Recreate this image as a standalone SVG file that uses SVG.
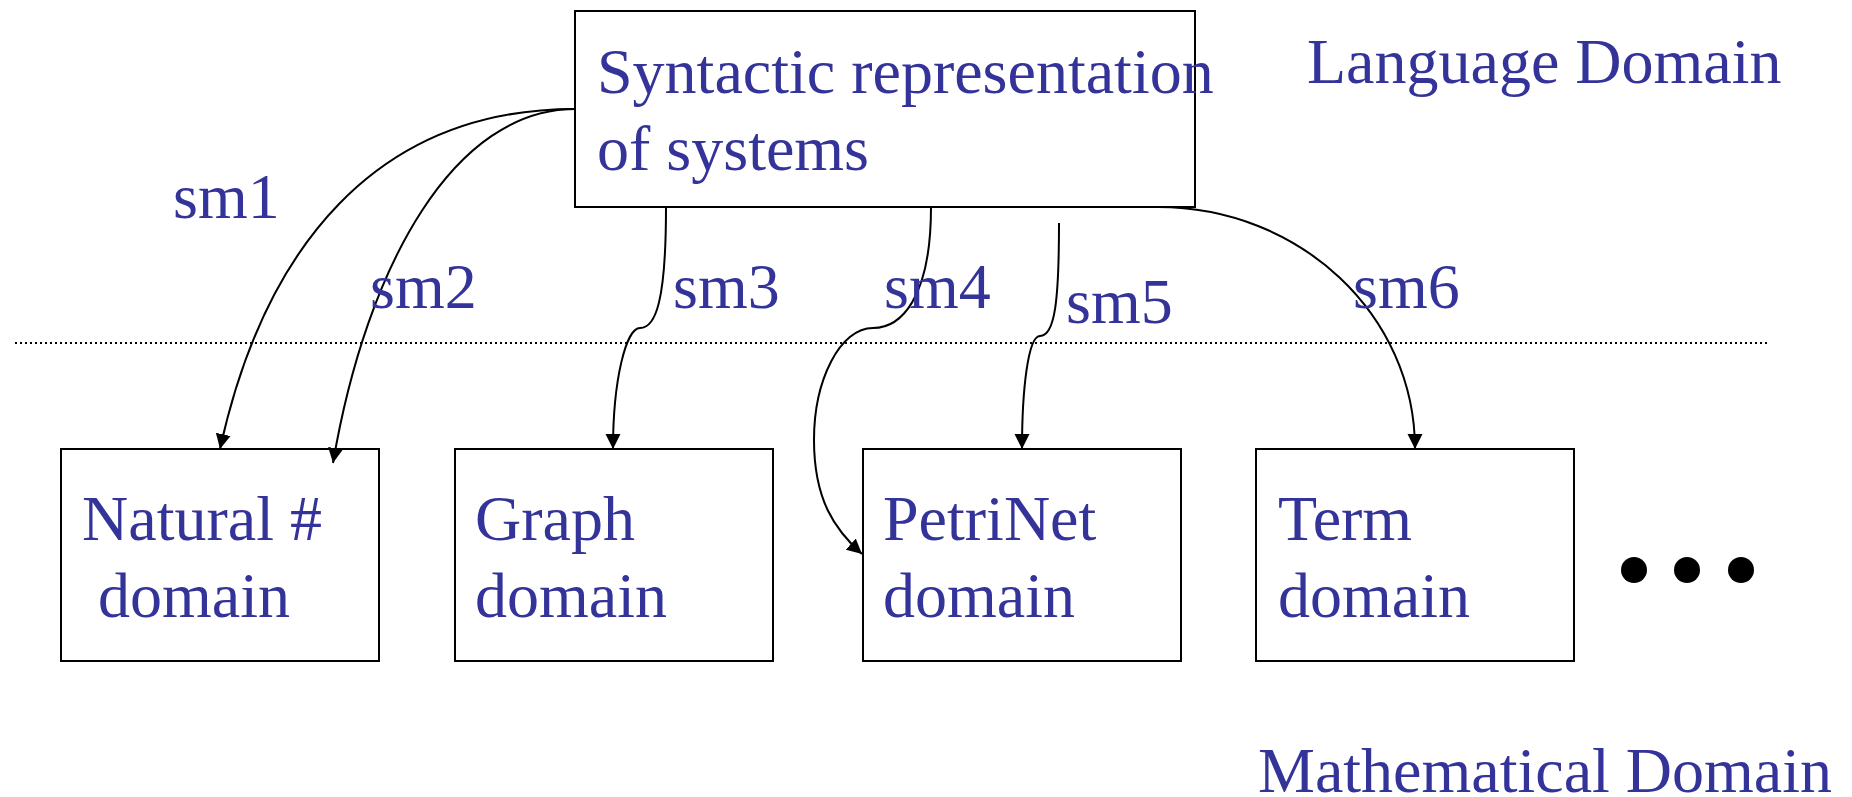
<svg xmlns="http://www.w3.org/2000/svg" width="1852" height="797" viewBox="0 0 1852 797">
<style>
  .box { fill: #ffffff; stroke: #000000; stroke-width: 2; }
  .t { font-family: "Liberation Serif", "Times New Roman", serif; font-size: 64px; fill: #333399; }
  .edge { fill: none; stroke: #000000; stroke-width: 2; marker-end: url(#arrow); }
  .sep { fill: none; stroke: #000000; stroke-width: 2; stroke-dasharray: 2 3; }
</style>
<defs>
  <marker id="arrow" markerUnits="userSpaceOnUse" markerWidth="16" markerHeight="16" refX="15" refY="8" orient="auto">
    <path d="M0,0.5 L15,8 L0,15.5 Z" fill="#000000"/>
  </marker>
</defs>
<rect width="1852" height="797" fill="#ffffff"/>

<line id="separator" class="sep" x1="15" y1="343" x2="1768" y2="343"/>

<g id="syntactic">
  <rect class="box" x="575" y="11" width="620" height="196"/>
  <text class="t" x="597" y="93">Syntactic representation</text>
  <text class="t" x="597" y="170">of systems</text>
</g>

<g id="natural">
  <rect class="box" x="61" y="449" width="318" height="212"/>
  <text class="t" x="82" y="540">Natural #</text>
  <text class="t" x="98" y="617">domain</text>
</g>

<g id="graph">
  <rect class="box" x="455" y="449" width="318" height="212"/>
  <text class="t" x="475" y="540">Graph</text>
  <text class="t" x="475" y="617">domain</text>
</g>

<g id="petrinet">
  <rect class="box" x="863" y="449" width="318" height="212"/>
  <text class="t" x="883" y="540">PetriNet</text>
  <text class="t" x="883" y="617">domain</text>
</g>

<g id="term">
  <rect class="box" x="1256" y="449" width="318" height="212"/>
  <text class="t" x="1278" y="540">Term</text>
  <text class="t" x="1278" y="617">domain</text>
</g>

<g id="ellipsis">
  <circle cx="1634" cy="570" r="13" fill="#000000"/>
  <circle cx="1687" cy="570" r="13" fill="#000000"/>
  <circle cx="1741" cy="570" r="13" fill="#000000"/>
</g>

<g id="connectors">
  <path id="sm1" class="edge" d="M575,109 C375,109 264,249 220,449"/>
  <path id="sm2" class="edge" d="M575,109 C455,109 367,263 333,463"/>
  <path id="sm3" class="edge" d="M666,207 C666,300 656,328 640,328 C626,328 613,380 613,449"/>
  <path id="sm4" class="edge" d="M931,207 C931,300 900,328 873,328 C840,328 814,380 814,440 C814,500 835,530 862,554"/>
  <path id="sm5" class="edge" d="M1059,223 C1059,300 1055,336 1040,336 C1028,336 1022,390 1022,449"/>
  <path id="sm6" class="edge" d="M1158,207 C1300,207 1415,315 1415,449"/>
</g>

<g id="labels">
  <text class="t" x="173" y="218">sm1</text>
  <text class="t" x="370" y="308">sm2</text>
  <text class="t" x="673" y="308">sm3</text>
  <text class="t" x="884" y="308">sm4</text>
  <text class="t" x="1066" y="323">sm5</text>
  <text class="t" x="1353" y="308">sm6</text>
  <text class="t" x="1307" y="83">Language Domain</text>
  <text class="t" x="1258" y="792">Mathematical Domain</text>
</g>
</svg>
